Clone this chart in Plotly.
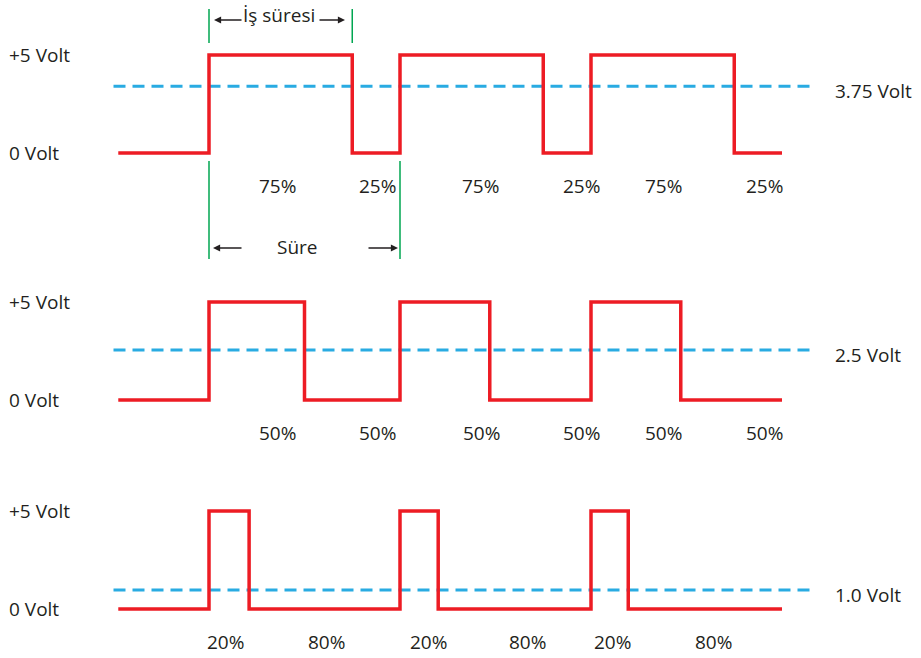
import plotly.graph_objects as go

# ---- data (time in arbitrary units, one PWM period = 10) ----
t_start, t_end = -4.75, 30.0
rise_times = [0, 10, 20]
fall_times = {
    "p75": [7.5, 17.5, 27.5],
    "p50": [5.0, 14.7, 24.7],
    "p20": [2.1, 12.0, 21.95],
}
panels = ["p75", "p50", "p20"]
high_v = 5
low_v = 0
avg_levels = [3.4, 2.55, 0.97]          # dashed levels as drawn
avg_labels = ["3.75 Volt", "2.5 Volt", "1.0 Volt"]
dash_start, dash_end = -5.0, 31.7
duty_labels = [
    ["75%", "25%", "75%", "25%", "75%", "25%"],
    ["50%", "50%", "50%", "50%", "50%", "50%"],
    ["20%", "80%", "20%", "80%", "20%", "80%"],
]
duty_label_t = [
    [3.56, 8.8, 14.19, 19.48, 23.82, 29.1],
    [3.56, 8.8, 14.25, 19.5, 23.82, 29.1],
    [0.84, 6.13, 11.47, 16.7, 21.1, 26.39],
]
volt_high_label = "+5 Volt"
volt_low_label = "0 Volt"
duty_title = "İş süresi"
period_title = "Süre"

# ---- layout geometry ----
W, H = 921, 658
px_per_t = 19.1
x0_px = 209
zero_px = [153, 400, 609]
px_per_v = 19.6

RED = "#ED1C24"
BLUE = "#29ABE2"
GREEN = "#00A651"
TXT = "#231F20"
FONT = "Open Sans"
FS = 19

fig = go.Figure()
axis_names = ["y", "y2", "y3"]

annotations = []
shapes = []

for i, key in enumerate(panels):
    yname = axis_names[i]
    # dashed average line
    fig.add_trace(go.Scatter(
        x=[dash_start, dash_end], y=[avg_levels[i], avg_levels[i]],
        mode="lines", yaxis=yname,
        line=dict(color=BLUE, width=3, dash="12px,7px"),
        hoverinfo="skip", showlegend=False))
    # PWM waveform
    xs = [t_start]
    ys = [low_v]
    for r, f in zip(rise_times, fall_times[key]):
        xs += [r, f]
        ys += [high_v, low_v]
    xs.append(t_end)
    ys.append(low_v)
    fig.add_trace(go.Scatter(
        x=xs, y=ys, mode="lines", yaxis=yname,
        line=dict(color=RED, width=3.5, shape="hv"),
        hoverinfo="skip", showlegend=False))

    # left labels
    annotations.append(dict(text=volt_high_label, xref="paper", x=7 / W, xanchor="left",
                            yref=yname, y=high_v, yanchor="middle", showarrow=False,
                            font=dict(family=FONT, size=FS, color=TXT)))
    annotations.append(dict(text=volt_low_label, xref="paper", x=7 / W, xanchor="left",
                            yref=yname, y=low_v, yanchor="middle", showarrow=False,
                            font=dict(family=FONT, size=FS, color=TXT)))
    # right label
    annotations.append(dict(text=avg_labels[i], xref="paper", x=833 / W, xanchor="left",
                            yref=yname, y=avg_levels[i] - 0.25, yanchor="middle", showarrow=False,
                            font=dict(family=FONT, size=FS, color=TXT)))
    # duty labels
    for lab, tx in zip(duty_labels[i], duty_label_t[i]):
        annotations.append(dict(text=lab, xref="x", x=tx, xanchor="center",
                                yref=yname, y=-1.7, yanchor="middle", showarrow=False,
                                font=dict(family=FONT, size=FS, color=TXT)))

# ---- duty cycle / period markers on first panel ----
def v_of(px):
    return (zero_px[0] - px) / px_per_v

def t_of(px):
    return (px - x0_px) / px_per_t

for tx in [rise_times[0], fall_times["p75"][0]]:
    shapes.append(dict(type="line", xref="x", yref="y", x0=tx, x1=tx,
                       y0=v_of(9), y1=v_of(43), line=dict(color=GREEN, width=1.5)))
for tx in [rise_times[0], rise_times[1]]:
    shapes.append(dict(type="line", xref="x", yref="y", x0=tx, x1=tx,
                       y0=v_of(161), y1=v_of(259), line=dict(color=GREEN, width=1.5)))

annotations.append(dict(text=duty_title, xref="x", x=t_of(279), yref="y", y=v_of(15),
                        showarrow=False, font=dict(family=FONT, size=FS, color=TXT)))
annotations.append(dict(text=period_title, xref="x", x=t_of(297), yref="y", y=v_of(247),
                        showarrow=False, font=dict(family=FONT, size=FS, color=TXT)))

arrows = [
    (214, 243, 20), (345, 318, 20),
    (213, 243, 248), (398, 367, 248),
]
for head, tail, ypx in arrows:
    annotations.append(dict(text="", xref="x", yref="y", axref="x", ayref="y",
                            x=t_of(head), y=v_of(ypx), ax=t_of(tail), ay=v_of(ypx),
                            showarrow=True, arrowhead=2, arrowsize=1.1, arrowwidth=1.3,
                            arrowcolor=TXT, standoff=0, startstandoff=0))

# ---- axes ----
def yrange(zp):
    return [(zp - H) / px_per_v, zp / px_per_v]

ax_common = dict(visible=False, showgrid=False, zeroline=False, fixedrange=True)
fig.update_layout(
    width=W, height=H,
    margin=dict(l=0, r=0, t=0, b=0),
    paper_bgcolor="white", plot_bgcolor="white",
    showlegend=False,
    xaxis=dict(range=[-x0_px / px_per_t, (W - x0_px) / px_per_t], **ax_common),
    yaxis=dict(range=yrange(zero_px[0]), domain=[0, 1], **ax_common),
    yaxis2=dict(range=yrange(zero_px[1]), overlaying="y", **ax_common),
    yaxis3=dict(range=yrange(zero_px[2]), overlaying="y", **ax_common),
    annotations=annotations,
    shapes=shapes,
)

fig.write_html(
    "out.html",
    config={"displayModeBar": False},
    post_script="document.body.style.margin='0';document.body.style.overflow='hidden';",
)
